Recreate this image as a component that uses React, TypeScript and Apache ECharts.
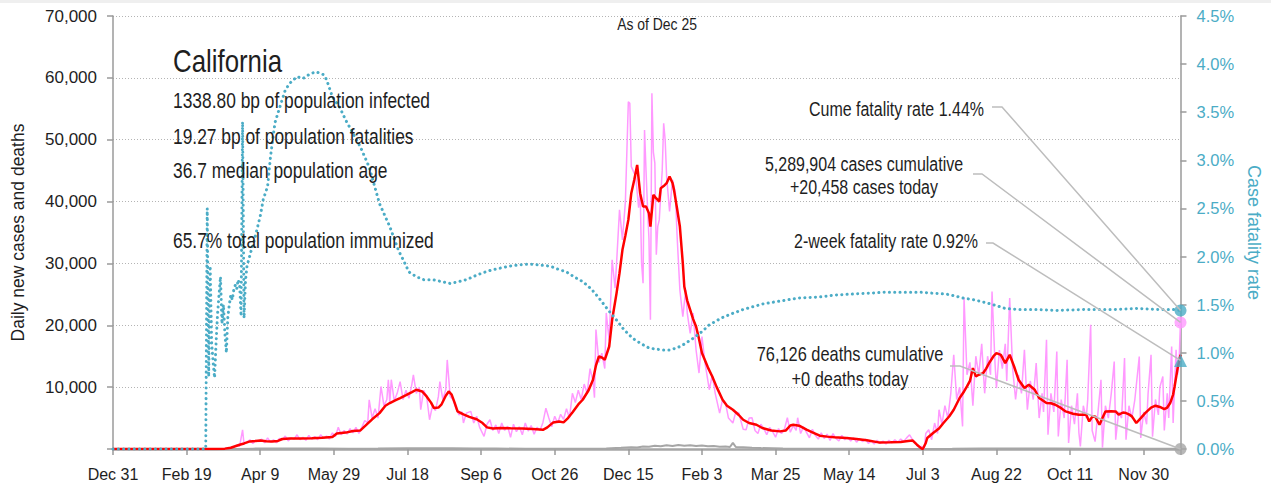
import React, { useEffect, useRef } from "react";
import * as echarts from "echarts";

// ---------- data ----------
const tickLabels = ["Dec 31", "Feb 19", "Apr 9", "May 29", "Jul 18", "Sep 6", "Oct 26", "Dec 15", "Feb 3", "Mar 25", "May 14", "Jul 3", "Aug 22", "Oct 11", "Nov 30"];
const tickStep = 50; // days between tick labels
const lastDay = 725; // Dec 25 (days since Dec 31)

// daily new cases [day, cases]
const casesDaily: [number, number][] = [
  [0, 0], [70, 0], [75, 40], [79, 150], [82, 350], [84, 600], [86, 450], [88, 3100], [89, 800], [91, 1100], [93, 1500], [95, 900], [97, 1400], [99, 1200],
  [101, 1600], [103, 1000], [105, 1800], [107, 1100], [109, 1500], [111, 1000], [113, 1700], [115, 1500], [117, 2100], [119, 1300], [121, 1800], [123, 1600],
  [125, 2300], [127, 1500], [129, 1900], [131, 1400], [133, 2200], [135, 1600], [137, 2000], [139, 1500], [141, 2300], [143, 1700], [145, 2100], [147, 1600],
  [149, 2600], [151, 2000], [153, 3500], [155, 2300], [157, 3000], [159, 2400], [161, 3300], [163, 2600], [165, 3500], [167, 2500], [169, 3500], [171, 4600],
  [173, 4200], [174, 7960], [176, 5000], [178, 6500], [180, 5000], [182, 10110], [184, 7000], [186, 8000], [187, 11200], [188, 7500], [189, 11200], [191, 7800],
  [193, 9000], [195, 10900], [197, 8000], [199, 9500], [201, 8200], [203, 10500], [204, 12000], [206, 9000], [208, 10000], [209, 6350], [211, 9500], [213, 8500],
  [215, 4730], [217, 7000], [219, 6200], [221, 8500], [222, 10900], [224, 8000], [226, 9600], [227, 14400], [229, 8500], [231, 7960], [233, 6500], [235, 5500],
  [237, 6000], [238, 4200], [240, 5800], [243, 6080], [245, 4200], [247, 5300], [249, 3500], [252, 2040], [254, 4000], [256, 4730], [258, 3000], [260, 3900],
  [262, 2500], [264, 4200], [266, 3000], [268, 3700], [270, 1900], [272, 4000], [274, 2800], [276, 3600], [278, 2300], [280, 4200], [282, 2900], [284, 3800],
  [286, 2400], [288, 3500], [290, 3000], [292, 4300], [294, 6600], [296, 5000], [298, 3600], [300, 5300], [302, 4200], [304, 5600], [306, 4800], [308, 6500],
  [310, 5000], [312, 9000], [314, 7500], [316, 9500], [318, 8000], [320, 10500], [322, 9000], [324, 13000], [326, 11000], [327, 8300], [328, 19300], [330, 14000],
  [332, 15500], [334, 13000], [335, 22000], [337, 17500], [339, 30600], [341, 26000], [342, 30000], [344, 38660], [346, 33800], [348, 40000], [350, 56150],
  [351, 55900], [352, 45650], [353, 45120], [355, 44000], [357, 39000], [358, 41900], [359, 30000], [360, 26800], [361, 51580], [362, 45000], [363, 39200],
  [364, 34000], [365, 20900], [366, 57500], [367, 48000], [368, 46200], [369, 31400], [370, 36000], [371, 37040], [373, 45000], [374, 52660], [375, 50000],
  [376, 44040], [378, 38400], [380, 43500], [382, 41360], [383, 35000], [385, 25700], [387, 21400], [389, 25700], [390, 22000], [392, 18700], [394, 21970],
  [396, 16000], [398, 12280], [400, 18190], [402, 14000], [405, 9580], [407, 12000], [409, 9000], [412, 5810], [414, 8000], [416, 7430], [418, 5000], [421, 4200],
  [423, 6000], [425, 5810], [428, 3200], [430, 3120], [432, 5000], [434, 5050], [436, 3000], [438, 2500], [440, 4000], [442, 3300], [444, 2300], [446, 3500],
  [448, 2800], [450, 1900], [452, 3300], [454, 2500], [456, 3200], [458, 5050], [460, 2700], [462, 3800], [464, 3000], [465, 5050], [467, 2500], [469, 3600],
  [471, 2700], [473, 1800], [475, 3200], [477, 2200], [479, 1600], [481, 2600], [483, 1700], [485, 2400], [487, 1400], [489, 2500], [491, 1700], [493, 1300],
  [495, 2200], [497, 1500], [499, 1900], [501, 1300], [503, 1800], [505, 1100], [507, 1700], [509, 1200], [511, 1600], [513, 900], [515, 1300], [517, 800],
  [519, 1400], [521, 900], [523, 1300], [525, 800], [527, 1400], [529, 1000], [531, 1500], [533, 1100], [535, 1600], [537, 1200], [539, 1800], [541, 2300],
  [543, 1500], [545, 1000], [547, 300], [549, 420], [551, 100], [552, 2500], [554, 3120], [556, 1500], [558, 4200], [560, 2500], [561, 6350], [563, 4000],
  [565, 7000], [567, 5000], [569, 9000], [571, 15230], [573, 8000], [575, 10000], [577, 3650], [578, 24400], [580, 12000], [582, 14000], [584, 7000], [586, 15000],
  [588, 12000], [590, 17000], [592, 9000], [594, 15000], [596, 12000], [597, 25460], [599, 14000], [600, 9850], [602, 16000], [604, 13000], [606, 17000],
  [607, 11000], [609, 24400], [611, 13000], [613, 8000], [615, 12000], [617, 9000], [619, 16040], [621, 6350], [623, 11000], [625, 8000], [627, 13890],
  [629, 5000], [631, 9000], [632, 6000], [634, 17660], [635, 2300], [637, 9000], [639, 6000], [641, 15770], [642, 2040], [644, 8000], [646, 5000], [648, 14430],
  [649, 970], [651, 7000], [653, 4000], [655, 9000], [656, 2630], [657, 420], [659, 7000], [661, 5000], [662, 8000], [664, 20080], [665, 3000], [667, 1200],
  [669, 6000], [671, 11200], [672, 200], [674, 7000], [676, 5000], [678, 9000], [680, 14150], [681, 1500], [683, 6000], [685, 5000], [687, 14700], [688, 1500],
  [690, 7000], [692, 5000], [694, 8000], [697, 14960], [698, 1800], [700, 6000], [702, 4000], [703, 9000], [705, 15230], [706, 2000], [708, 8000], [710, 5500],
  [711, 10000], [713, 11730], [714, 3000], [716, 9000], [717, 5000], [719, 16570], [720, 4200], [722, 16040], [723, 12000], [724, 14000], [725, 20458],
];

// 7-day average of new cases [day, cases]
const casesAvg: [number, number][] = [
  [0, 0], [70, 0], [76, 60], [80, 200], [83, 450], [86, 690], [89, 900], [93, 1230], [97, 1300], [100, 1390], [104, 1250], [108, 1200], [112, 1300], [115, 1615],
  [120, 1700], [127, 1710], [135, 1750], [142, 1820], [149, 1940], [152, 2500], [158, 2650], [163, 2900], [168, 3000], [172, 3900], [176, 4800], [181, 5800],
  [185, 7000], [188, 7430], [192, 7900], [195, 8240], [199, 8700], [203, 9200], [206, 9580], [210, 9300], [213, 8500], [216, 7500], [218, 6620], [221, 6700],
  [223, 7160], [226, 8600], [228, 9300], [230, 8800], [232, 7500], [234, 6080], [238, 5600], [242, 5200], [247, 4800], [251, 4200], [254, 3500], [258, 3300],
  [263, 3400], [270, 3350], [278, 3300], [285, 3230], [290, 3150], [292, 3100], [295, 3500], [299, 4300], [303, 4460], [306, 4300], [309, 5000], [312, 5900],
  [316, 7200], [319, 7960], [323, 9500], [326, 11200], [328, 13500], [330, 14960], [332, 14800], [334, 14430], [337, 16570], [339, 20890], [342, 25200],
  [344, 28430], [346, 32200], [348, 34500], [350, 37040], [352, 41360], [354, 43500], [356, 45930], [358, 41360], [360, 39190], [362, 39190], [364, 38120],
  [365, 35960], [367, 41080], [369, 40500], [371, 40000], [372, 42160], [374, 42500], [376, 42970], [378, 44040], [380, 43000], [381, 41890], [383, 39000],
  [385, 35960], [387, 30000], [388, 26270], [390, 24000], [392, 22500], [394, 21000], [396, 19800], [398, 17800], [400, 15510], [404, 13200], [407, 11730],
  [410, 10000], [414, 7960], [417, 7000], [421, 6350], [425, 5500], [428, 4730], [432, 4200], [437, 3920], [441, 3390], [447, 3000], [453, 2850], [457, 3000],
  [460, 3800], [462, 3920], [466, 3770], [471, 3120], [475, 2700], [480, 2150], [485, 2000], [490, 1900], [498, 1780], [505, 1600], [512, 1400], [520, 1070],
  [528, 1100], [535, 1150], [540, 1300], [543, 1390], [546, 700], [549, 100], [550, 0], [552, 970], [553, 1780], [557, 2580], [561, 3300], [564, 4200],
  [568, 5300], [571, 6350], [575, 8240], [578, 9300], [580, 10110], [582, 11000], [584, 13080], [586, 11730], [588, 12000], [591, 12280], [593, 13000],
  [595, 13890], [598, 15000], [600, 15510], [603, 15230], [606, 13890], [609, 15230], [612, 13340], [615, 11200], [619, 9850], [622, 10390], [626, 9580],
  [629, 8240], [634, 7430], [637, 7400], [640, 7160], [644, 6600], [647, 6080], [652, 5700], [656, 5540], [661, 5540], [663, 4460], [665, 5200], [667, 5270],
  [670, 3920], [672, 5000], [674, 6080], [678, 6100], [681, 6080], [683, 5540], [686, 5900], [688, 5810], [690, 5600], [692, 5270], [695, 4200], [698, 5000],
  [701, 5810], [705, 6700], [708, 7000], [711, 6800], [714, 6460], [716, 6700], [718, 7430], [720, 8800], [721, 10110], [723, 13000], [725, 15230],
];

// daily deaths [day, deaths]
const deathsDaily: [number, number][] = [
  [0, 0], [75, 0], [85, 20], [95, 60], [105, 90], [115, 80], [125, 75], [140, 70], [160, 60], [180, 80], [200, 110], [215, 130], [230, 120], [245, 90],
  [260, 70], [280, 50], [300, 50], [320, 60], [335, 100], [345, 200], [352, 300], [356, 250], [360, 420], [364, 350], [368, 520], [372, 430], [376, 600],
  [380, 480], [384, 650], [388, 520], [392, 620], [396, 470], [400, 560], [404, 430], [408, 500], [412, 380], [416, 420], [419, 330], [421, 1000], [423, 320],
  [428, 280], [434, 200], [440, 150], [455, 80], [470, 50], [490, 40], [510, 30], [530, 20], [550, 10], [570, 30], [590, 70], [610, 90], [625, 100], [640, 80],
  [660, 60], [680, 50], [700, 50], [715, 60], [724, 40], [725, 0],
];

// case fatality rate [day, %]
const fatalityRate: [number, number][] = [
  [0, 0], [63, 0], [64, 2.5], [65, 0.75], [66, 1.9], [67, 1.1], [68, 0.9], [69, 0.74], [70, 1.1], [71, 1.4], [72, 1.6], [73, 1.79], [74, 1.3], [75, 1.5],
  [76, 1.2], [77, 1.0], [78, 1.37], [79, 1.5], [80, 1.6], [81, 1.55], [82, 1.65], [83, 1.7], [84, 1.66], [85, 1.76], [86, 1.7], [87, 1.38], [88, 3.4],
  [89, 1.36], [90, 1.75], [91, 1.9], [94, 2.07], [96, 2.17], [100, 2.42], [102, 2.59], [105, 2.73], [107, 3.04], [110, 3.39], [112, 3.49], [117, 3.73],
  [120, 3.8], [125, 3.87], [129, 3.85], [134, 3.9], [138, 3.92], [143, 3.89], [145, 3.84], [149, 3.66], [154, 3.55], [158, 3.42], [163, 3.28], [168, 3.14],
  [174, 2.93], [181, 2.55], [188, 2.31], [194, 2.06], [197, 1.97], [201, 1.84], [206, 1.79], [211, 1.76], [217, 1.76], [223, 1.74], [229, 1.72], [235, 1.74],
  [240, 1.76], [246, 1.8], [251, 1.83], [257, 1.86], [263, 1.88], [269, 1.9], [274, 1.91], [280, 1.92], [285, 1.92], [291, 1.91], [297, 1.9], [302, 1.87],
  [308, 1.84], [313, 1.79], [319, 1.74], [325, 1.66], [330, 1.57], [336, 1.45], [342, 1.34], [347, 1.24], [353, 1.15], [358, 1.1], [364, 1.05], [368, 1.04],
  [373, 1.03], [378, 1.03], [383, 1.05], [388, 1.09], [394, 1.15], [400, 1.22], [405, 1.29], [413, 1.36], [421, 1.41], [428, 1.45], [435, 1.48], [442, 1.51],
  [450, 1.53], [458, 1.55], [466, 1.57], [480, 1.58], [490, 1.6], [502, 1.61], [514, 1.62], [525, 1.63], [536, 1.63], [548, 1.63], [556, 1.62], [566, 1.61],
  [572, 1.59], [577, 1.57], [585, 1.55], [593, 1.52], [600, 1.49], [606, 1.46], [615, 1.45], [627, 1.45], [640, 1.44], [661, 1.45], [680, 1.45], [695, 1.46],
  [710, 1.45], [720, 1.45], [725, 1.44],
];

const stateName = "California";
const statLines = [
  "1338.80 bp of population infected",
  "19.27 bp of population fatalities",
  "36.7 median population age",
  "",
  "65.7% total population immunized",
];
const asOfLabel = "As of Dec 25";
const cumeFatalityRate = 1.44;
const twoWeekFatalityRate = 0.92;
const casesCumulative = 5289904;
const casesToday = 20458;
const deathsCumulative = 76126;
const deathsToday = 0;

// ---------- style ----------
const REG = '"Liberation Sans", Arial, sans-serif';
const CONDENSE = 0.82;
const CYAN = "#4bacc6";
const PINK = "#ff99ff";
const RED = "#ff0000";
const GRAY = "#a6a6a6";
const AXIS = "#9a9a9a";
const TXT = "#1e1e1e";

const fmt = (n: number) => n.toLocaleString("en-US");

function txt(text: string, x: number, y: number, size: number, align: string, fill = TXT) {
  return {
    type: "text",
    x,
    y,
    scaleX: CONDENSE,
    z: 100,
    style: {
      text,
      x: 0,
      y: 0,
      fill,
      fontSize: size,
      fontFamily: REG,
      align,
      textAlign: align,
      verticalAlign: "middle",
      textVerticalAlign: "middle",
    },
  };
}

export default function App() {
  const ref = useRef<HTMLDivElement>(null);

  useEffect(() => {
    if (!ref.current) return;
    const chart = echarts.init(ref.current, null, { renderer: "svg" });
    const option: any = {
      animation: false,
      backgroundColor: "#ffffff",
      grid: { left: 113, right: 89, top: 16, bottom: 42, containLabel: false },
      xAxis: {
        type: "value",
        min: 0,
        max: lastDay,
        interval: tickStep,
        axisLine: { show: true, lineStyle: { color: GRAY, width: 2.5 } },
        axisTick: { show: true, length: 6, lineStyle: { color: AXIS, width: 1.5 } },
        axisLabel: {
          margin: 17,
          color: TXT,
          fontFamily: REG,
          fontSize: 16,
          formatter: (v: number) => (v % tickStep === 0 ? tickLabels[v / tickStep] ?? "" : ""),
        },
        splitLine: { show: false },
      },
      yAxis: [
        {
          type: "value",
          min: 0,
          max: 70000,
          interval: 10000,
          position: "left",
          name: "Daily new cases and deaths",
          nameLocation: "middle",
          nameRotate: 90,
          nameGap: 86,
          nameTextStyle: { color: TXT, fontFamily: REG, fontSize: 17.5 },
          axisLine: { show: true, lineStyle: { color: AXIS, width: 1.5 } },
          axisTick: { show: true, length: 6, lineStyle: { color: AXIS, width: 1.5 } },
          axisLabel: {
            margin: 16,
            color: TXT,
            fontFamily: REG,
            fontSize: 17,
            formatter: (v: number) => (v === 0 ? "" : fmt(v)),
          },
          splitLine: { show: true, lineStyle: { color: "#b4b4b4", type: [1, 2], width: 1 } },
        },
        {
          type: "value",
          min: 0,
          max: 4.5,
          interval: 0.5,
          position: "right",
          name: "Case fatality rate",
          nameLocation: "middle",
          nameRotate: -90,
          nameGap: 62,
          nameTextStyle: { color: CYAN, fontFamily: REG, fontSize: 18 },
          axisLine: { show: true, lineStyle: { color: AXIS, width: 1.5 } },
          axisTick: { show: true, length: 6, lineStyle: { color: AXIS, width: 1.5 } },
          axisLabel: {
            margin: 16,
            color: CYAN,
            fontFamily: REG,
            fontSize: 16.5,
            formatter: (v: number) => v.toFixed(1) + "%",
          },
          splitLine: { show: false },
        },
      ],
      series: [
        {
          type: "line",
          name: "Deaths",
          data: deathsDaily,
          yAxisIndex: 0,
          showSymbol: false,
          lineStyle: { color: GRAY, width: 2 },
          z: 2,
        },
        {
          type: "line",
          name: "Daily cases",
          data: casesDaily,
          yAxisIndex: 0,
          showSymbol: false,
          lineStyle: { color: PINK, width: 1.5 },
          z: 3,
        },
        {
          type: "line",
          name: "7-day average",
          data: casesAvg,
          yAxisIndex: 0,
          showSymbol: false,
          lineStyle: { color: RED, width: 2.5 },
          z: 4,
        },
        {
          type: "line",
          name: "Case fatality rate",
          data: fatalityRate,
          yAxisIndex: 1,
          showSymbol: false,
          lineStyle: { color: CYAN, width: 3, type: [0.1, 5.2], cap: "round" },
          z: 5,
        },
        {
          type: "scatter",
          data: [[lastDay, deathsToday]],
          yAxisIndex: 0,
          symbol: "circle",
          symbolSize: 12,
          clip: false,
          itemStyle: { color: GRAY },
          z: 6,
        },
        {
          type: "scatter",
          data: [[lastDay, casesToday]],
          yAxisIndex: 0,
          symbol: "circle",
          symbolSize: 12,
          clip: false,
          itemStyle: { color: PINK },
          z: 6,
        },
        {
          type: "scatter",
          data: [[lastDay, twoWeekFatalityRate]],
          yAxisIndex: 1,
          symbol: "triangle",
          symbolSize: 13,
          clip: false,
          itemStyle: { color: CYAN },
          z: 6,
        },
        {
          type: "scatter",
          data: [[lastDay, cumeFatalityRate]],
          yAxisIndex: 1,
          symbol: "circle",
          symbolSize: 12,
          clip: false,
          itemStyle: { color: CYAN },
          z: 7,
        },
      ],
    };
    chart.setOption(option);

    const px = (axis: number, v: number) =>
      chart.convertToPixel({ xAxisIndex: 0, yAxisIndex: axis } as any, [lastDay, v]) as number[];

    const leaders = [
      { pts: [[992, 107], [1002, 107]], to: px(1, cumeFatalityRate) },
      { pts: [[973, 174], [982, 174]], to: px(0, casesToday) },
      { pts: [[986, 243], [993, 243]], to: px(1, twoWeekFatalityRate) },
      { pts: [[950, 366], [960, 366]], to: px(0, deathsToday) },
    ].map((l) => ({
      type: "polyline",
      z: 50,
      shape: { points: [...l.pts, l.to] },
      style: { stroke: "#bdbdbd", lineWidth: 1.5, fill: null },
    }));

    const statY = [100.6, 136, 170.6, 205.6, 240.6];
    const graphics: any[] = [
      { type: "rect", left: 0, top: 0, z: 0, shape: { width: 1271, height: 3 }, style: { fill: "#efefef" } },
      txt(stateName, 173, 61, 31.5, "left"),
      ...statLines.map((s, i) => (s ? txt(s, 173, statY[i], 21.2, "left") : null)).filter(Boolean),
      txt(asOfLabel, 657, 23.5, 17, "center"),
      txt(`Cume fatality rate ${cumeFatalityRate.toFixed(2)}%`, 984, 109, 19.5, "right"),
      txt(`${fmt(casesCumulative)} cases cumulative`, 864, 164.5, 19.5, "center"),
      txt(`+${fmt(casesToday)} cases today`, 864, 187.5, 19.5, "center"),
      txt(`2-week fatality rate ${twoWeekFatalityRate.toFixed(2)}%`, 978, 241, 19.5, "right"),
      txt(`${fmt(deathsCumulative)} deaths cumulative`, 850, 354, 20, "center"),
      txt(`+${fmt(deathsToday)} deaths today`, 850, 379, 20, "center"),
      ...leaders,
    ];
    chart.setOption({ graphic: graphics });

    return () => chart.dispose();
  }, []);

  return (
    <div
      ref={ref}
      style={{ position: "fixed", left: 0, top: 0, width: 1271, height: 491, background: "#fff" }}
    />
  );
}
